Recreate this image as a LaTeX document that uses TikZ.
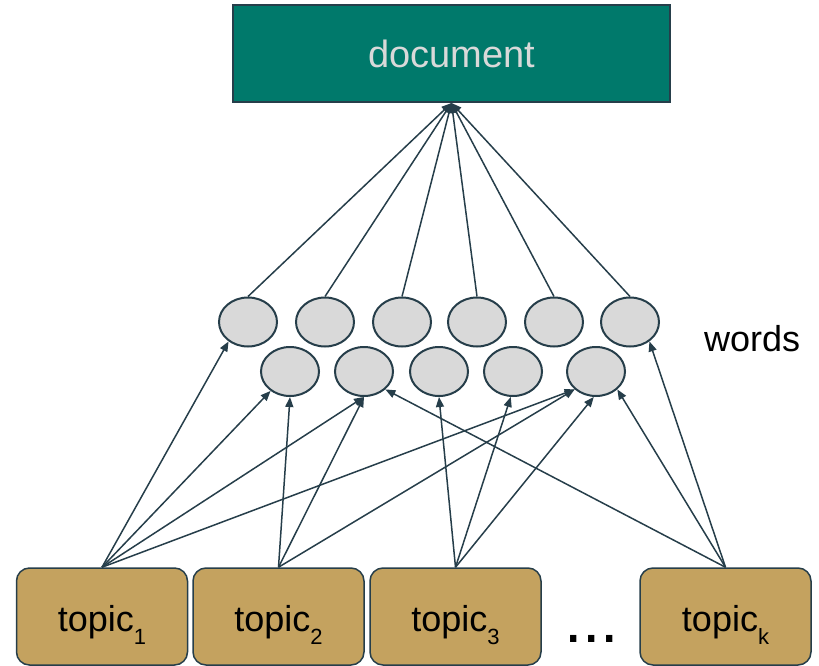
\documentclass[tikz,border=0pt]{standalone}
\usepackage{fontspec}
\setmainfont{Liberation Sans}
\usetikzlibrary{shapes.geometric,arrows.meta}

\definecolor{inkline}{HTML}{263E4A}
\definecolor{docfill}{HTML}{00796B}
\definecolor{doctext}{HTML}{D9D9D9}
\definecolor{wordfill}{HTML}{D9D9D9}
\definecolor{topicfill}{HTML}{C4A25F}

\newcommand{\topiclabel}[1]{topic\raisebox{-13pt}{\fontsize{22}{22}\selectfont #1}}

\begin{document}
\begin{tikzpicture}[
  x=1pt, y=-1pt,
  docbox/.style={draw=inkline, line width=2pt, fill=docfill, rectangle,
    minimum width=437pt, minimum height=97pt, inner sep=0pt,
    text=doctext, font=\fontsize{38}{40}\selectfont,
    text height=29pt, text depth=0pt},
  wordnode/.style={draw=inkline, line width=2pt, fill=wordfill, ellipse,
    minimum width=58pt, minimum height=49pt, inner sep=0pt},
  topicbox/.style={draw=inkline, line width=1.5pt, fill=topicfill,
    rounded corners=13pt, rectangle, minimum width=171pt, minimum height=97pt,
    inner sep=0pt, font=\fontsize{36}{40}\selectfont,
    text height=29pt, text depth=0pt},
  link/.style={draw=inkline, line width=1.5pt,
    -{Triangle[length=10pt,width=8pt]}},
  plain/.style={inner sep=0pt, text=black}
]
\useasboundingbox (0,0) rectangle (819,666);

% document node
\node[docbox] (doc) at (451.5,53.5) {document};

% upper row of words
\node[wordnode] (w1) at (248,322) {};
\node[wordnode] (w2) at (325,322) {};
\node[wordnode] (w3) at (402,322) {};
\node[wordnode] (w4) at (477,322) {};
\node[wordnode] (w5) at (554,322) {};
\node[wordnode] (w6) at (630,322) {};

% lower row of words
\node[wordnode] (v1) at (290,371.5) {};
\node[wordnode] (v2) at (364,371.5) {};
\node[wordnode] (v3) at (439,371.5) {};
\node[wordnode] (v4) at (513,371.5) {};
\node[wordnode] (v5) at (596,371.5) {};

\node[plain, anchor=base west, font=\fontsize{36}{40}\selectfont] (wordslab) at (704,351) {words};

% topics
\node[topicbox] (t1) at (102,616.5) {\topiclabel{1}};
\node[topicbox] (t2) at (278.5,616.5) {\topiclabel{2}};
\node[topicbox] (t3) at (455.5,616.5) {\topiclabel{3}};
\node[topicbox] (tk) at (725.5,616.5) {\topiclabel{k}};

\node[plain, anchor=base west, font=\fontsize{66}{66}\selectfont] (dots) at (564,642) {...};

% words feed the document
\foreach \w in {w1,w2,w3,w4,w5,w6}
  \draw[link] (\w.north) -- (doc.south);

% topics generate words
\draw[link] (t1.north) -- (w1.-135);
\draw[link] (t1.north) -- (v1.-135);
\draw[link] (t1.north) -- (v2.south);
\draw[link] (t1.north) -- (v5.-140);

\draw[link] (t2.north) -- (v1.south);
\draw[link] (t2.north) -- (v2.south);
\draw[link] (t2.north) -- (v5.-140);

\draw[link] (t3.north) -- (v3.south);
\draw[link] (t3.north) -- (v4.-95);
\draw[link] (t3.north) -- (v5.-95);

\draw[link] (tk.north) -- (v2.-40);
\draw[link] (tk.north) -- (v5.-40);
\draw[link] (tk.north) -- (w6.-45);
\end{tikzpicture}
\end{document}
